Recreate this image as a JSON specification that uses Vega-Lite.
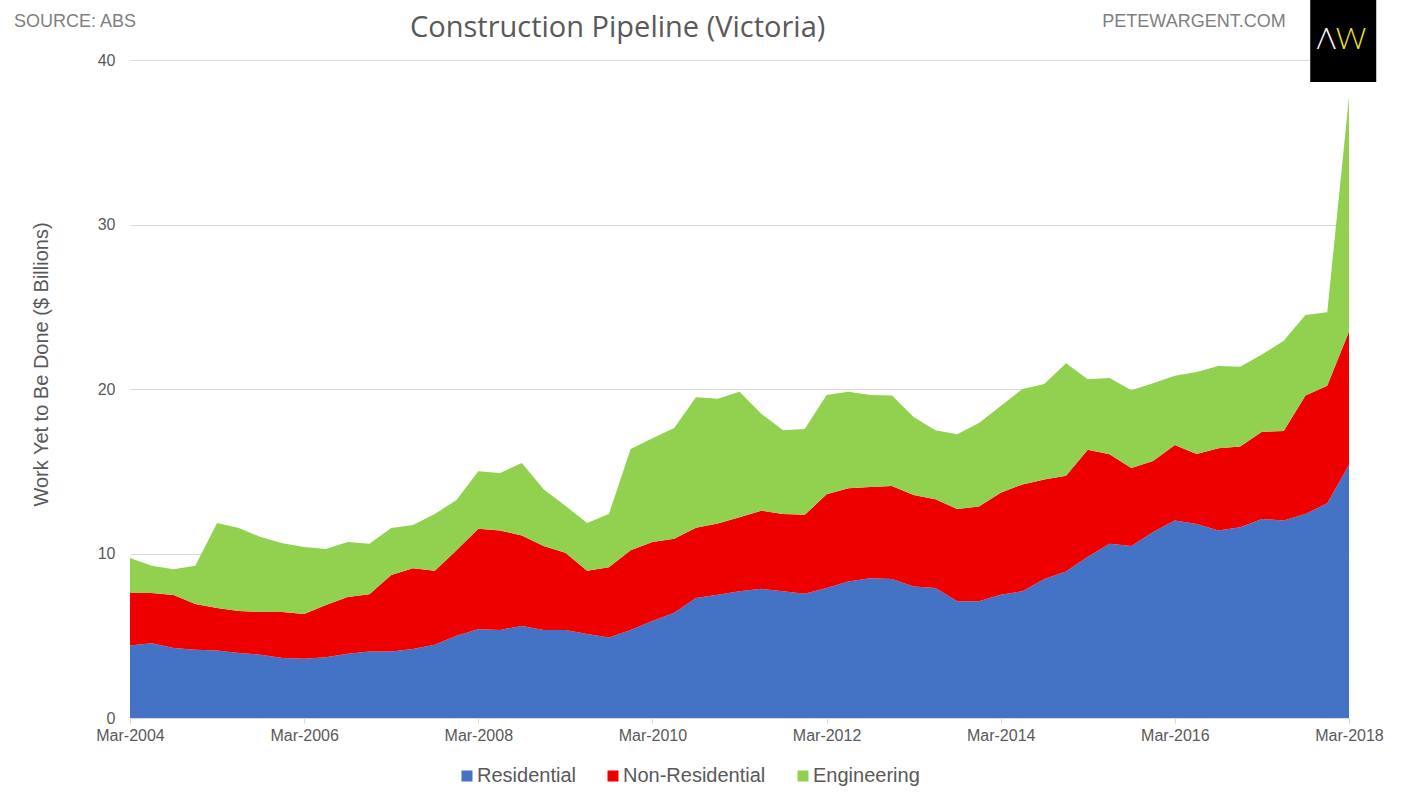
{
  "$schema": "https://vega.github.io/schema/vega-lite/v6.json",
  "width": 1219,
  "height": 658,
  "autosize": {"type": "none"},
  "padding": {"left": 130, "top": 60, "right": 53, "bottom": 81},
  "background": "white",
  "config": {"view": {"stroke": null}, "font": "Liberation Sans"},
  "title": {"text": "Construction Pipeline (Victoria)", "font": "Open Sans", "fontSize": 29, "fontWeight": "normal", "color": "#595959", "anchor": "start", "frame": "group", "dx": 280, "offset": -66, "baseline": "alphabetic"},
  "datasets": {
    "pipeline": [
      {"q":"2004-03","s":"Residential","v":4.40},{"q":"2004-03","s":"Non-Residential","v":3.20},{"q":"2004-03","s":"Engineering","v":2.13},
      {"q":"2004-06","s":"Residential","v":4.55},{"q":"2004-06","s":"Non-Residential","v":3.05},{"q":"2004-06","s":"Engineering","v":1.65},
      {"q":"2004-09","s":"Residential","v":4.25},{"q":"2004-09","s":"Non-Residential","v":3.22},{"q":"2004-09","s":"Engineering","v":1.58},
      {"q":"2004-12","s":"Residential","v":4.15},{"q":"2004-12","s":"Non-Residential","v":2.78},{"q":"2004-12","s":"Engineering","v":2.32},
      {"q":"2005-03","s":"Residential","v":4.10},{"q":"2005-03","s":"Non-Residential","v":2.58},{"q":"2005-03","s":"Engineering","v":5.17},
      {"q":"2005-06","s":"Residential","v":3.95},{"q":"2005-06","s":"Non-Residential","v":2.55},{"q":"2005-06","s":"Engineering","v":5.05},
      {"q":"2005-09","s":"Residential","v":3.85},{"q":"2005-09","s":"Non-Residential","v":2.60},{"q":"2005-09","s":"Engineering","v":4.55},
      {"q":"2005-12","s":"Residential","v":3.65},{"q":"2005-12","s":"Non-Residential","v":2.79},{"q":"2005-12","s":"Engineering","v":4.18},
      {"q":"2006-03","s":"Residential","v":3.60},{"q":"2006-03","s":"Non-Residential","v":2.72},{"q":"2006-03","s":"Engineering","v":4.08},
      {"q":"2006-06","s":"Residential","v":3.70},{"q":"2006-06","s":"Non-Residential","v":3.17},{"q":"2006-06","s":"Engineering","v":3.40},
      {"q":"2006-09","s":"Residential","v":3.90},{"q":"2006-09","s":"Non-Residential","v":3.45},{"q":"2006-09","s":"Engineering","v":3.35},
      {"q":"2006-12","s":"Residential","v":4.05},{"q":"2006-12","s":"Non-Residential","v":3.48},{"q":"2006-12","s":"Engineering","v":3.07},
      {"q":"2007-03","s":"Residential","v":4.05},{"q":"2007-03","s":"Non-Residential","v":4.65},{"q":"2007-03","s":"Engineering","v":2.85},
      {"q":"2007-06","s":"Residential","v":4.20},{"q":"2007-06","s":"Non-Residential","v":4.90},{"q":"2007-06","s":"Engineering","v":2.63},
      {"q":"2007-09","s":"Residential","v":4.45},{"q":"2007-09","s":"Non-Residential","v":4.50},{"q":"2007-09","s":"Engineering","v":3.45},
      {"q":"2007-12","s":"Residential","v":5.00},{"q":"2007-12","s":"Non-Residential","v":5.20},{"q":"2007-12","s":"Engineering","v":3.05},
      {"q":"2008-03","s":"Residential","v":5.40},{"q":"2008-03","s":"Non-Residential","v":6.10},{"q":"2008-03","s":"Engineering","v":3.50},
      {"q":"2008-06","s":"Residential","v":5.35},{"q":"2008-06","s":"Non-Residential","v":6.05},{"q":"2008-06","s":"Engineering","v":3.50},
      {"q":"2008-09","s":"Residential","v":5.60},{"q":"2008-09","s":"Non-Residential","v":5.50},{"q":"2008-09","s":"Engineering","v":4.40},
      {"q":"2008-12","s":"Residential","v":5.35},{"q":"2008-12","s":"Non-Residential","v":5.10},{"q":"2008-12","s":"Engineering","v":3.45},
      {"q":"2009-03","s":"Residential","v":5.35},{"q":"2009-03","s":"Non-Residential","v":4.70},{"q":"2009-03","s":"Engineering","v":2.85},
      {"q":"2009-06","s":"Residential","v":5.10},{"q":"2009-06","s":"Non-Residential","v":3.85},{"q":"2009-06","s":"Engineering","v":2.90},
      {"q":"2009-09","s":"Residential","v":4.90},{"q":"2009-09","s":"Non-Residential","v":4.27},{"q":"2009-09","s":"Engineering","v":3.23},
      {"q":"2009-12","s":"Residential","v":5.35},{"q":"2009-12","s":"Non-Residential","v":4.85},{"q":"2009-12","s":"Engineering","v":6.15},
      {"q":"2010-03","s":"Residential","v":5.90},{"q":"2010-03","s":"Non-Residential","v":4.80},{"q":"2010-03","s":"Engineering","v":6.30},
      {"q":"2010-06","s":"Residential","v":6.40},{"q":"2010-06","s":"Non-Residential","v":4.50},{"q":"2010-06","s":"Engineering","v":6.73},
      {"q":"2010-09","s":"Residential","v":7.30},{"q":"2010-09","s":"Non-Residential","v":4.27},{"q":"2010-09","s":"Engineering","v":7.93},
      {"q":"2010-12","s":"Residential","v":7.50},{"q":"2010-12","s":"Non-Residential","v":4.33},{"q":"2010-12","s":"Engineering","v":7.57},
      {"q":"2011-03","s":"Residential","v":7.70},{"q":"2011-03","s":"Non-Residential","v":4.50},{"q":"2011-03","s":"Engineering","v":7.63},
      {"q":"2011-06","s":"Residential","v":7.85},{"q":"2011-06","s":"Non-Residential","v":4.75},{"q":"2011-06","s":"Engineering","v":5.90},
      {"q":"2011-09","s":"Residential","v":7.70},{"q":"2011-09","s":"Non-Residential","v":4.70},{"q":"2011-09","s":"Engineering","v":5.10},
      {"q":"2011-12","s":"Residential","v":7.55},{"q":"2011-12","s":"Non-Residential","v":4.80},{"q":"2011-12","s":"Engineering","v":5.22},
      {"q":"2012-03","s":"Residential","v":7.90},{"q":"2012-03","s":"Non-Residential","v":5.70},{"q":"2012-03","s":"Engineering","v":6.03},
      {"q":"2012-06","s":"Residential","v":8.30},{"q":"2012-06","s":"Non-Residential","v":5.67},{"q":"2012-06","s":"Engineering","v":5.86},
      {"q":"2012-09","s":"Residential","v":8.50},{"q":"2012-09","s":"Non-Residential","v":5.55},{"q":"2012-09","s":"Engineering","v":5.58},
      {"q":"2012-12","s":"Residential","v":8.45},{"q":"2012-12","s":"Non-Residential","v":5.65},{"q":"2012-12","s":"Engineering","v":5.50},
      {"q":"2013-03","s":"Residential","v":8.00},{"q":"2013-03","s":"Non-Residential","v":5.55},{"q":"2013-03","s":"Engineering","v":4.75},
      {"q":"2013-06","s":"Residential","v":7.90},{"q":"2013-06","s":"Non-Residential","v":5.40},{"q":"2013-06","s":"Engineering","v":4.20},
      {"q":"2013-09","s":"Residential","v":7.10},{"q":"2013-09","s":"Non-Residential","v":5.60},{"q":"2013-09","s":"Engineering","v":4.55},
      {"q":"2013-12","s":"Residential","v":7.10},{"q":"2013-12","s":"Non-Residential","v":5.75},{"q":"2013-12","s":"Engineering","v":5.08},
      {"q":"2014-03","s":"Residential","v":7.50},{"q":"2014-03","s":"Non-Residential","v":6.20},{"q":"2014-03","s":"Engineering","v":5.27},
      {"q":"2014-06","s":"Residential","v":7.70},{"q":"2014-06","s":"Non-Residential","v":6.50},{"q":"2014-06","s":"Engineering","v":5.80},
      {"q":"2014-09","s":"Residential","v":8.45},{"q":"2014-09","s":"Non-Residential","v":6.05},{"q":"2014-09","s":"Engineering","v":5.80},
      {"q":"2014-12","s":"Residential","v":8.90},{"q":"2014-12","s":"Non-Residential","v":5.83},{"q":"2014-12","s":"Engineering","v":6.84},
      {"q":"2015-03","s":"Residential","v":9.80},{"q":"2015-03","s":"Non-Residential","v":6.50},{"q":"2015-03","s":"Engineering","v":4.30},
      {"q":"2015-06","s":"Residential","v":10.60},{"q":"2015-06","s":"Non-Residential","v":5.43},{"q":"2015-06","s":"Engineering","v":4.64},
      {"q":"2015-09","s":"Residential","v":10.45},{"q":"2015-09","s":"Non-Residential","v":4.75},{"q":"2015-09","s":"Engineering","v":4.73},
      {"q":"2015-12","s":"Residential","v":11.30},{"q":"2015-12","s":"Non-Residential","v":4.33},{"q":"2015-12","s":"Engineering","v":4.72},
      {"q":"2016-03","s":"Residential","v":12.00},{"q":"2016-03","s":"Non-Residential","v":4.60},{"q":"2016-03","s":"Engineering","v":4.20},
      {"q":"2016-06","s":"Residential","v":11.80},{"q":"2016-06","s":"Non-Residential","v":4.25},{"q":"2016-06","s":"Engineering","v":4.98},
      {"q":"2016-09","s":"Residential","v":11.40},{"q":"2016-09","s":"Non-Residential","v":5.00},{"q":"2016-09","s":"Engineering","v":5.00},
      {"q":"2016-12","s":"Residential","v":11.60},{"q":"2016-12","s":"Non-Residential","v":4.90},{"q":"2016-12","s":"Engineering","v":4.85},
      {"q":"2017-03","s":"Residential","v":12.10},{"q":"2017-03","s":"Non-Residential","v":5.30},{"q":"2017-03","s":"Engineering","v":4.70},
      {"q":"2017-06","s":"Residential","v":12.00},{"q":"2017-06","s":"Non-Residential","v":5.45},{"q":"2017-06","s":"Engineering","v":5.48},
      {"q":"2017-09","s":"Residential","v":12.40},{"q":"2017-09","s":"Non-Residential","v":7.20},{"q":"2017-09","s":"Engineering","v":4.90},
      {"q":"2017-12","s":"Residential","v":13.05},{"q":"2017-12","s":"Non-Residential","v":7.15},{"q":"2017-12","s":"Engineering","v":4.47},
      {"q":"2018-03","s":"Residential","v":15.40},{"q":"2018-03","s":"Non-Residential","v":8.10},{"q":"2018-03","s":"Engineering","v":14.25}
    ],
    "one": [{"k": 1}]
  },
  "layer": [
    {
      "data": {"name": "pipeline"},
      "mark": {"type": "area", "opacity": 1, "strokeWidth": 0},
      "encoding": {
        "x": {"field": "q", "type": "ordinal", "title": null,
          "scale": {"type": "point", "padding": 0},
          "axis": {"values": ["2004-03","2006-03","2008-03","2010-03","2012-03","2014-03","2016-03","2018-03"],
            "labelExpr": "'Mar-' + slice(datum.value, 0, 4)", "labelAngle": 0, "labelFontSize": 16, "labelColor": "#595959",
            "domainColor": "#D9D9D9", "tickColor": "#D9D9D9", "tickSize": 5, "labelPadding": 4, "grid": false, "labelFont": "Liberation Sans"}},
        "y": {"field": "v", "type": "quantitative", "stack": "zero",
          "scale": {"domain": [0, 40], "nice": false},
          "axis": {"values": [0, 10, 20, 30, 40], "domain": false, "ticks": false, "labelFontSize": 16, "labelColor": "#595959",
            "labelPadding": 15, "gridColor": "#D9D9D9", "title": "Work Yet to Be Done ($ Billions)", "titleFontSize": 20,
            "titleFontWeight": "normal", "titleColor": "#595959", "titleX": -89, "titleY": 304, "titleAngle": -90,
            "titleAlign": "center", "titleBaseline": "middle", "titleFont": "Liberation Sans", "labelFont": "Liberation Sans"}},
        "color": {"field": "s", "type": "nominal", "sort": ["Residential", "Non-Residential", "Engineering"],
          "scale": {"domain": ["Residential", "Non-Residential", "Engineering"], "range": ["#4472C4", "#EE0000", "#92D050"]},
          "legend": {"title": null, "orient": "none", "legendX": 327, "legendY": 706, "direction": "horizontal",
            "symbolType": "square", "symbolSize": 121, "symbolStrokeWidth": 0, "labelFontSize": 20, "labelColor": "#595959",
            "columnPadding": 27, "labelOffset": 0, "symbolOpacity": 1, "labelFont": "Liberation Sans"}}
      }
    },
    {
      "data": {"name": "one"},
      "mark": {"type": "text", "text": "SOURCE: ABS", "align": "right", "baseline": "middle", "dx": 6, "fontSize": 18, "color": "#7F7F7F", "font": "Liberation Sans"},
      "encoding": {
        "x": {"datum": "2004-03", "type": "ordinal", "title": null},
        "y": {"datum": 42.3, "type": "quantitative", "title": null}
      }
    },
    {
      "data": {"name": "one"},
      "mark": {"type": "text", "text": "PETEWARGENT.COM", "align": "right", "baseline": "middle", "dx": 2, "fontSize": 18, "color": "#7F7F7F", "font": "Liberation Sans"},
      "encoding": {
        "x": {"datum": "2017-06", "type": "ordinal", "title": null},
        "y": {"datum": 42.3, "type": "quantitative", "title": null}
      }
    },
    {
      "data": {"name": "one"},
      "mark": {"type": "bar", "color": "#000000", "width": 66, "xOffset": 16, "opacity": 1},
      "encoding": {
        "x": {"datum": "2017-12", "type": "ordinal", "title": null},
        "y": {"datum": 43.65, "type": "quantitative", "title": null},
        "y2": {"datum": 38.66}
      }
    },
    {
      "data": {"name": "one"},
      "mark": {"type": "text", "text": "Λ", "align": "center", "baseline": "middle", "fontSize": 30, "fontWeight": 300, "color": "#FFFFFF", "font": "Lato", "dx": -1},
      "encoding": {
        "x": {"datum": "2017-12", "type": "ordinal", "title": null},
        "y": {"datum": 41.2, "type": "quantitative", "title": null}
      }
    },
    {
      "data": {"name": "one"},
      "mark": {"type": "text", "text": "W", "align": "center", "baseline": "middle", "fontSize": 30, "fontWeight": 300, "color": "#E8E337", "font": "Lato", "dx": 2},
      "encoding": {
        "x": {"datum": "2018-03", "type": "ordinal", "title": null},
        "y": {"datum": 41.2, "type": "quantitative", "title": null}
      }
    }
  ]
}
